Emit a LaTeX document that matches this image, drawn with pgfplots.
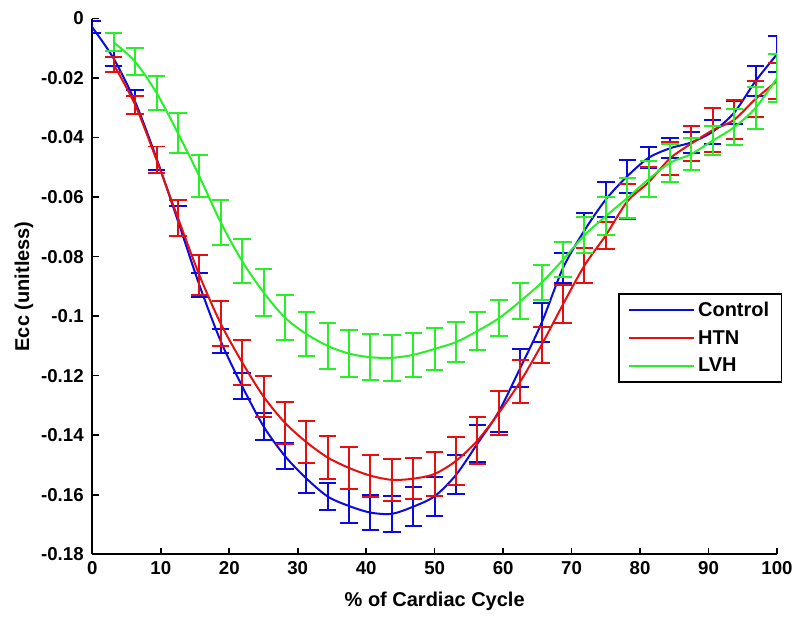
\documentclass[border=0pt]{standalone}
\usepackage{pgfplots}
\pgfplotsset{compat=1.18}
\usepackage{pgfplotstable}
\usepackage{fontspec}
\setmainfont{Liberation Sans}

\definecolor{cblue}{RGB}{10,10,225}
\definecolor{cred}{RGB}{230,15,15}
\definecolor{cgreen}{RGB}{40,240,40}

% x  mean  sem
\pgfplotstableread{
x y e
0 -0.003 0.002
3.125 -0.0135 0.0025
6.25 -0.028 0.004
9.375 -0.047 0.004
12.5 -0.068 0.005
15.625 -0.0895 0.004
18.75 -0.1084 0.004
21.875 -0.1235 0.0045
25 -0.137 0.0045
28.125 -0.147 0.0045
31.25 -0.1545 0.005
34.375 -0.1606 0.0045
37.5 -0.1638 0.0058
40.625 -0.166 0.006
43.75 -0.1664 0.006
46.875 -0.164 0.0065
50 -0.1605 0.0065
53.125 -0.1533 0.0065
56.25 -0.1428 0.0062
59.375 -0.132 0.007
62.5 -0.1174 0.0065
65.625 -0.1022 0.0065
68.75 -0.0838 0.005
71.875 -0.0712 0.006
75 -0.0608 0.006
78.125 -0.0530 0.0055
81.25 -0.0468 0.0035
84.375 -0.0436 0.0034
87.5 -0.0416 0.0035
90.625 -0.038 0.004
93.75 -0.0316 0.004
96.875 -0.021 0.005
100 -0.012 0.006
}\control

\pgfplotstableread{
x y e
3.125 -0.0155 0.0025
6.25 -0.029 0.003
9.375 -0.0475 0.0045
12.5 -0.067 0.006
15.625 -0.0862 0.0067
18.75 -0.1025 0.0075
21.875 -0.1155 0.0075
25 -0.127 0.007
28.125 -0.1358 0.007
31.25 -0.1423 0.007
34.375 -0.1475 0.0072
37.5 -0.151 0.007
40.625 -0.1536 0.007
43.75 -0.155 0.007
46.875 -0.1546 0.007
50 -0.153 0.0075
53.125 -0.1486 0.008
56.25 -0.1418 0.0078
59.375 -0.1325 0.0075
62.5 -0.122 0.0072
65.625 -0.1096 0.006
68.75 -0.096 0.0064
71.875 -0.083 0.006
75 -0.0728 0.0045
78.125 -0.0615 0.006
81.25 -0.055 0.005
84.375 -0.047 0.0055
87.5 -0.042 0.006
90.625 -0.0375 0.0075
93.75 -0.034 0.0065
96.875 -0.027 0.006
100 -0.021 0.006
}\htn

\pgfplotstableread{
x y e
3.125 -0.008 0.003
6.25 -0.0145 0.0045
9.375 -0.025 0.0058
12.5 -0.0385 0.0066
15.625 -0.053 0.007
18.75 -0.0685 0.0075
21.875 -0.0815 0.0075
25 -0.092 0.0078
28.125 -0.1005 0.0075
31.25 -0.106 0.0075
34.375 -0.110 0.0078
37.5 -0.1126 0.0078
40.625 -0.1138 0.0077
43.75 -0.114 0.0077
46.875 -0.113 0.0075
50 -0.111 0.007
53.125 -0.1087 0.0067
56.25 -0.105 0.0064
59.375 -0.1007 0.006
62.5 -0.095 0.006
65.625 -0.0887 0.006
68.75 -0.081 0.006
71.875 -0.0728 0.006
75 -0.0664 0.0063
78.125 -0.0603 0.0068
81.25 -0.054 0.006
84.375 -0.0485 0.0063
87.5 -0.0455 0.0055
90.625 -0.041 0.005
93.75 -0.0365 0.006
96.875 -0.030 0.007
100 -0.020 0.008
}\lvh

\begin{document}
\begin{tikzpicture}
\begin{axis}[
  scale only axis,
  width=513.75pt, height=402pt,
  xmin=0, xmax=100, ymin=-0.18, ymax=0,
  axis x line=bottom, axis y line=left,
  axis line style={-, line width=1.5pt},
  tick align=inside, major tick length=5pt,
  tick style={line width=1.2pt, black},
  xtick={0,10,...,100},
  ytick={-0.18,-0.16,-0.14,-0.12,-0.1,-0.08,-0.06,-0.04,-0.02,0},
  yticklabels={-0.18,-0.16,-0.14,-0.12,-0.1,-0.08,-0.06,-0.04,-0.02,0},
  /pgf/number format/assume math mode=true,
  ticklabel style={font=\fontsize{14}{16}\selectfont\bfseries},
  yticklabel style={xshift=-3pt},
  xticklabel style={yshift=-2pt},
  label style={font=\fontsize{15}{17}\selectfont\bfseries},
  xlabel={\% of Cardiac Cycle},
  xlabel style={yshift=-6pt},
  ylabel={Ecc (unitless)},
  ylabel style={yshift=-1pt},
  legend style={at={(0.768,0.487)}, anchor=north west, draw=black,
    line width=1pt, font=\fontsize{15}{17}\selectfont\bfseries,
    inner xsep=7pt, inner ysep=4pt, row sep=5pt},
  legend cell align=left,
  legend image code/.code={\draw[#1, line width=1.5pt] (0pt,0pt) -- (49pt,0pt);},
  error bars/error bar style={line width=1.5pt, solid},
  error bars/error mark options={rotate=90, mark size=6.5pt, line width=1.5pt},
]
\addplot[cblue, smooth, line width=1.5pt, mark=none,
  error bars/.cd, y dir=both, y explicit] table[x=x, y=y, y error=e] {\control};
\addlegendentry{Control}
\addplot[cred, smooth, line width=1.5pt, mark=none,
  error bars/.cd, y dir=both, y explicit] table[x=x, y=y, y error=e] {\htn};
\addlegendentry{HTN}
\addplot[cgreen, smooth, line width=1.5pt, mark=none,
  error bars/.cd, y dir=both, y explicit] table[x=x, y=y, y error=e] {\lvh};
\addlegendentry{LVH}
\end{axis}
\pgfresetboundingbox
\useasboundingbox (-69.3pt,-52.5pt) rectangle (531pt,415.9pt);
\end{tikzpicture}
\end{document}
